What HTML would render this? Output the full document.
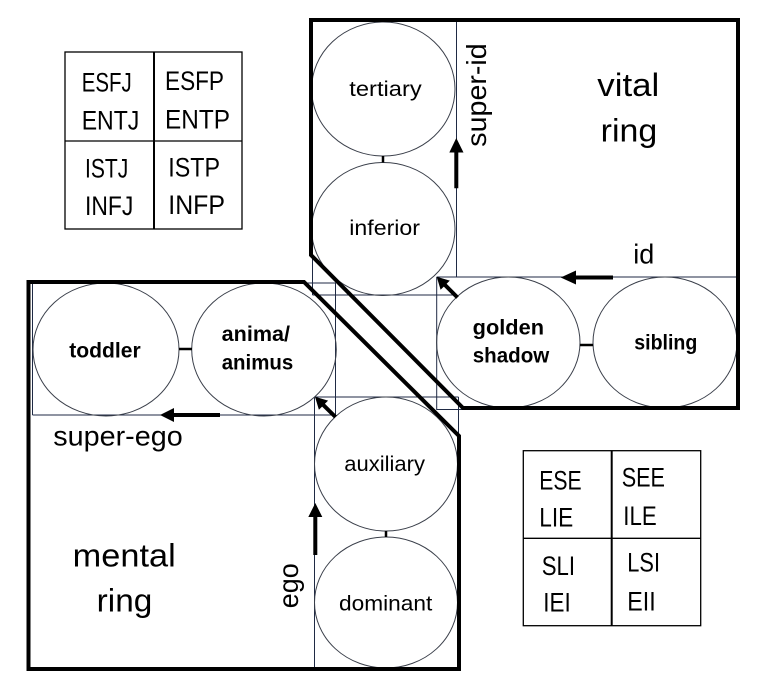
<!DOCTYPE html>
<html>
<head>
<meta charset="utf-8">
<style>
  html, body { margin:0; padding:0; background:#fff; }
  svg { display:block; }
  text { font-family: "Liberation Sans", "DejaVu Sans", sans-serif; fill:#000; }
  .t { font-size:26.5px; }
  .c { font-size:21px; }
  .b { font-size:21px; font-weight:bold; }
  .big { font-size:32px; }
  .m { font-size:28px; }
</style>
</head>
<body>
<svg width="770" height="693" viewBox="0 0 770 693" xmlns="http://www.w3.org/2000/svg">
  <rect x="0" y="0" width="770" height="693" fill="#fff"/>

  <!-- thin bbox / grid lines -->
  <g stroke="#1f2a44" stroke-width="1" fill="none">
    <line x1="456.5" y1="20" x2="456.5" y2="277"/>
    <line x1="436.7" y1="277" x2="738" y2="277"/>
    <line x1="436.7" y1="277" x2="436.7" y2="410"/>
    <line x1="436.7" y1="409.5" x2="463" y2="409.5"/>
    <line x1="312.5" y1="255" x2="312.5" y2="295"/>
    <line x1="312.5" y1="295" x2="456.5" y2="295"/>
    <line x1="32.5" y1="283" x2="336" y2="283"/>
    <line x1="32.5" y1="283" x2="32.5" y2="415"/>
    <line x1="32.5" y1="415" x2="336" y2="415"/>
    <line x1="335.5" y1="283" x2="335.5" y2="415"/>
    <line x1="314.5" y1="397" x2="458.5" y2="397"/>
    <line x1="314.5" y1="397" x2="314.5" y2="669"/>
    <line x1="458.5" y1="397" x2="458.5" y2="437"/>
  </g>

  <!-- circles -->
  <g stroke="#3a3f4a" stroke-width="1" fill="none">
    <ellipse cx="383.3" cy="89" rx="71.7" ry="67"/>
    <ellipse cx="383.3" cy="229" rx="71.7" ry="66.5"/>
    <ellipse cx="508.3" cy="342.5" rx="71.7" ry="65.5"/>
    <ellipse cx="665" cy="342.5" rx="72" ry="65.5"/>
    <ellipse cx="106" cy="349.5" rx="73" ry="66.5"/>
    <ellipse cx="264" cy="349.5" rx="72.3" ry="66.5"/>
    <ellipse cx="386" cy="464" rx="71.5" ry="67"/>
    <ellipse cx="386" cy="602.5" rx="71.5" ry="65.5"/>
  </g>

  <!-- connectors -->
  <g stroke="#000" stroke-width="2.5">
    <line x1="383" y1="156" x2="383" y2="162.5"/>
    <line x1="580" y1="345" x2="593" y2="345"/>
    <line x1="179" y1="349" x2="192" y2="349"/>
    <line x1="386" y1="531" x2="386" y2="537"/>
  </g>

  <!-- thick ring borders -->
  <g stroke="#000" stroke-width="4" fill="none" stroke-linejoin="miter">
    <polygon points="311,20 738,20 738,408 463,408 311,255"/>
    <polygon points="28.5,282 304,282 459,436 459,669 28.5,669"/>
  </g>

  <!-- arrows -->
  <g fill="#000">
    <polygon points="456.3,138 463.5,152.5 458.3,152.5 458.3,188.3 454.3,188.3 454.3,152.5 449.3,152.5"/>
    <polygon points="560.7,277.5 576,270.5 576,275.5 613,275.5 613,279.5 576,279.5 576,284.5"/>
    <polygon points="436.7,276.7 449.8,280.6 446.6,283.8 458.9,296.1 456.1,298.9 443.8,286.6 440.6,289.8"/>
    <polygon points="160,415 174,408 174,413 220,413 220,417 174,417 174,422"/>
    <polygon points="315,396.7 328.1,400.6 324.9,403.8 336.9,415.6 334.1,418.4 322.1,406.6 318.9,409.8"/>
    <polygon points="315.3,503 322.3,517 317.3,517 317.3,555 313.3,555 313.3,517 308.3,517"/>
  </g>

  <!-- tables -->
  <g stroke="#000" fill="none">
    <rect x="65" y="52" width="177" height="177" stroke-width="1.3"/>
    <line x1="154" y1="52" x2="154" y2="229" stroke-width="2"/>
    <line x1="65" y1="141" x2="242" y2="141" stroke-width="1.3"/>
    <rect x="523.3" y="450.7" width="177.4" height="175" stroke-width="1.3"/>
    <line x1="611.7" y1="450.7" x2="611.7" y2="625.7" stroke-width="2"/>
    <line x1="523.3" y1="538.3" x2="700.7" y2="538.3" stroke-width="1.3"/>
  </g>

  <!-- table 1 text -->
  <text class="t" x="81.7" y="91.7" textLength="50" lengthAdjust="spacingAndGlyphs">ESFJ</text>
  <text class="t" x="81.7" y="129.3" textLength="57.6" lengthAdjust="spacingAndGlyphs">ENTJ</text>
  <text class="t" x="165" y="90" textLength="59" lengthAdjust="spacingAndGlyphs">ESFP</text>
  <text class="t" x="165" y="128.3" textLength="65" lengthAdjust="spacingAndGlyphs">ENTP</text>
  <text class="t" x="85" y="177.7" textLength="43.3" lengthAdjust="spacingAndGlyphs">ISTJ</text>
  <text class="t" x="85" y="215" textLength="48.3" lengthAdjust="spacingAndGlyphs">INFJ</text>
  <text class="t" x="168.3" y="176.7" textLength="51.7" lengthAdjust="spacingAndGlyphs">ISTP</text>
  <text class="t" x="168.3" y="214" textLength="56.7" lengthAdjust="spacingAndGlyphs">INFP</text>

  <!-- table 2 text -->
  <text class="t" x="539.3" y="489.3" textLength="42.4" lengthAdjust="spacingAndGlyphs">ESE</text>
  <text class="t" x="539.3" y="526.7" textLength="34" lengthAdjust="spacingAndGlyphs">LIE</text>
  <text class="t" x="621.7" y="486.7" textLength="43.3" lengthAdjust="spacingAndGlyphs">SEE</text>
  <text class="t" x="623.3" y="525" textLength="33.4" lengthAdjust="spacingAndGlyphs">ILE</text>
  <text class="t" x="541.7" y="575" textLength="33.3" lengthAdjust="spacingAndGlyphs">SLI</text>
  <text class="t" x="543.3" y="611.7" textLength="27.4" lengthAdjust="spacingAndGlyphs">IEI</text>
  <text class="t" x="627.3" y="571.7" textLength="32.7" lengthAdjust="spacingAndGlyphs">LSI</text>
  <text class="t" x="627.3" y="610.7" textLength="28.4" lengthAdjust="spacingAndGlyphs">EII</text>

  <!-- circle labels -->
  <text class="c" x="349.3" y="96" textLength="72.4" lengthAdjust="spacingAndGlyphs">tertiary</text>
  <text class="c" x="349.3" y="235" textLength="70.7" lengthAdjust="spacingAndGlyphs">inferior</text>
  <text class="b" x="472.7" y="334.3" textLength="71.3" lengthAdjust="spacingAndGlyphs">golden</text>
  <text class="b" x="472.7" y="362.7" textLength="76.6" lengthAdjust="spacingAndGlyphs">shadow</text>
  <text class="b" x="634.3" y="349.3" textLength="63" lengthAdjust="spacingAndGlyphs">sibling</text>
  <text class="b" x="69.3" y="357.3" textLength="71.4" lengthAdjust="spacingAndGlyphs">toddler</text>
  <text class="b" x="221.7" y="341" textLength="68.3" lengthAdjust="spacingAndGlyphs">anima/</text>
  <text class="b" x="221.7" y="369.3" textLength="71.6" lengthAdjust="spacingAndGlyphs">animus</text>
  <text class="c" x="344.3" y="471" textLength="80.7" lengthAdjust="spacingAndGlyphs">auxiliary</text>
  <text class="c" x="339" y="610.7" textLength="93.3" lengthAdjust="spacingAndGlyphs">dominant</text>

  <!-- big labels -->
  <text class="big" x="597.3" y="96" textLength="62" lengthAdjust="spacingAndGlyphs">vital</text>
  <text class="big" x="600.7" y="141.7" textLength="56.6" lengthAdjust="spacingAndGlyphs">ring</text>
  <text class="big" x="72.7" y="566.7" textLength="103" lengthAdjust="spacingAndGlyphs">mental</text>
  <text class="big" x="96.7" y="611.7" textLength="55.6" lengthAdjust="spacingAndGlyphs">ring</text>

  <!-- arrow labels -->
  <text class="m" x="633.3" y="263.3" textLength="21" lengthAdjust="spacingAndGlyphs">id</text>
  <text class="m" x="53.3" y="445.7" textLength="129.4" lengthAdjust="spacingAndGlyphs">super-ego</text>
  <text class="m" transform="translate(486,146.7) rotate(-90)" x="0" y="0" textLength="103.4" lengthAdjust="spacingAndGlyphs">super-id</text>
  <text class="m" transform="translate(298,608.3) rotate(-90)" x="0" y="0" textLength="45" lengthAdjust="spacingAndGlyphs">ego</text>
</svg>
</body>
</html>
